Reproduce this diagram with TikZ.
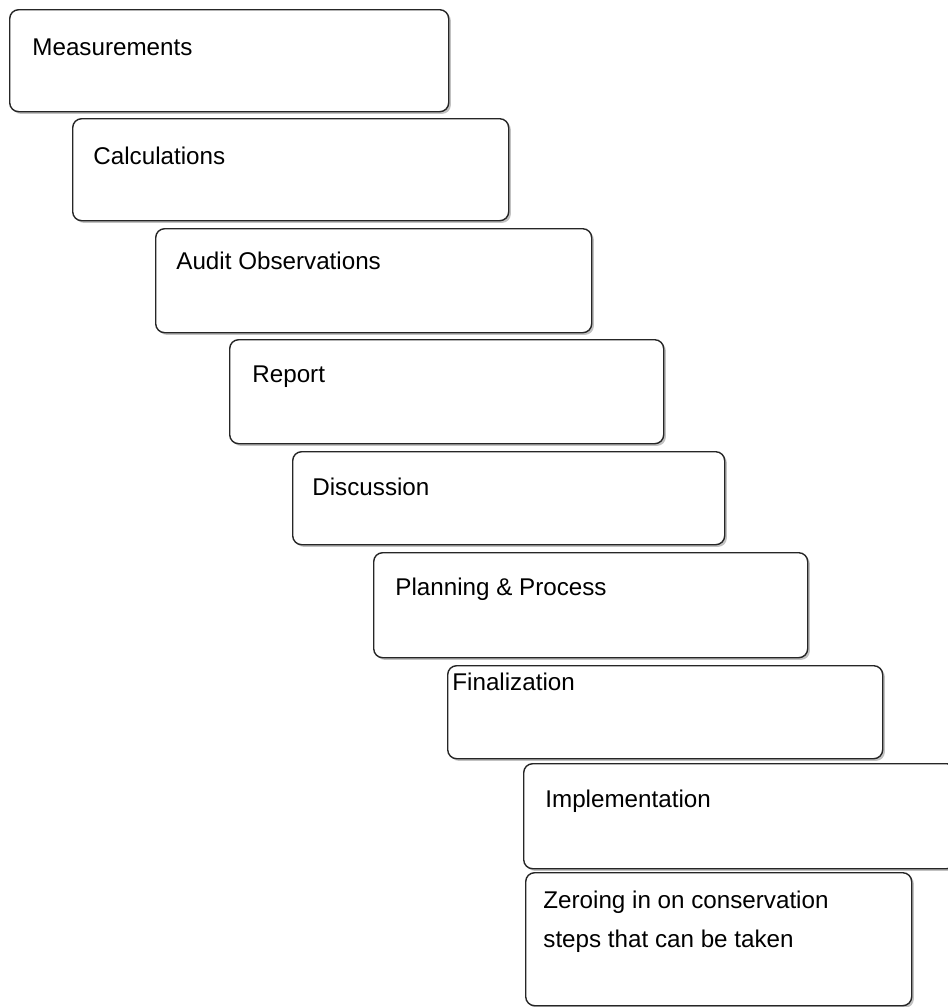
\documentclass[tikz,border=0pt]{standalone}
\usepackage{fontspec}
\setmainfont{Liberation Sans}
\usetikzlibrary{shadows}

\begin{document}
\begin{tikzpicture}[x=0.5pt,y=-0.5pt,
    stage/.style={draw=black!85,line width=0.7pt,fill=white,rounded corners=4.5pt,
      anchor=north west,inner sep=0pt,
      drop shadow={shadow xshift=1.1pt,shadow yshift=-1.1pt,fill=black!35,opacity=0.7}},
    lbl/.style={anchor=base west,inner sep=0pt,align=left,
      font=\fontsize{12.1pt}{19.5pt}\selectfont}]
  \useasboundingbox (0,0) rectangle (948,1007);
      \draw
        (9,9) node[stage,minimum width=219.5pt,minimum height=51pt] (meas){}
        (72,118) node[stage,minimum width=218pt,minimum height=51pt] (calc){}
        (155,228) node[stage,minimum width=218pt,minimum height=52pt] (audit){}
        (229,339) node[stage,minimum width=217pt,minimum height=52pt] (report){}
        (292,451) node[stage,minimum width=216pt,minimum height=46.5pt] (disc){}
        (373,552) node[stage,minimum width=217pt,minimum height=52.5pt] (plan){}
        (447,665) node[stage,minimum width=217.5pt,minimum height=46.5pt] (final){}
        (523,763) node[stage,minimum width=216pt,minimum height=52.5pt] (impl){}
        (525,872) node[stage,minimum width=193pt,minimum height=66.5pt] (zero){};
      \begin{scope}[lbl]
        \node at (32,55) (measT) {Measurements};
        \node at (93,164) (calcT) {Calculations};
        \node at (176,269) (auditT) {Audit Observations};
        \node at (252,382) (reportT) {Report};
        \node at (312,495) (discT) {Discussion};
        \node at (395,595) (planT) {Planning \& Process};
        \node at (452,690) (finalT) {Finalization};
        \node at (545,807) (implT) {Implementation};
        % base anchor sits on the last line
        \node at (543,947) (zeroT) {Zeroing in on conservation\\steps that can be taken};
      \end{scope}
    \end{tikzpicture}
\end{document}
